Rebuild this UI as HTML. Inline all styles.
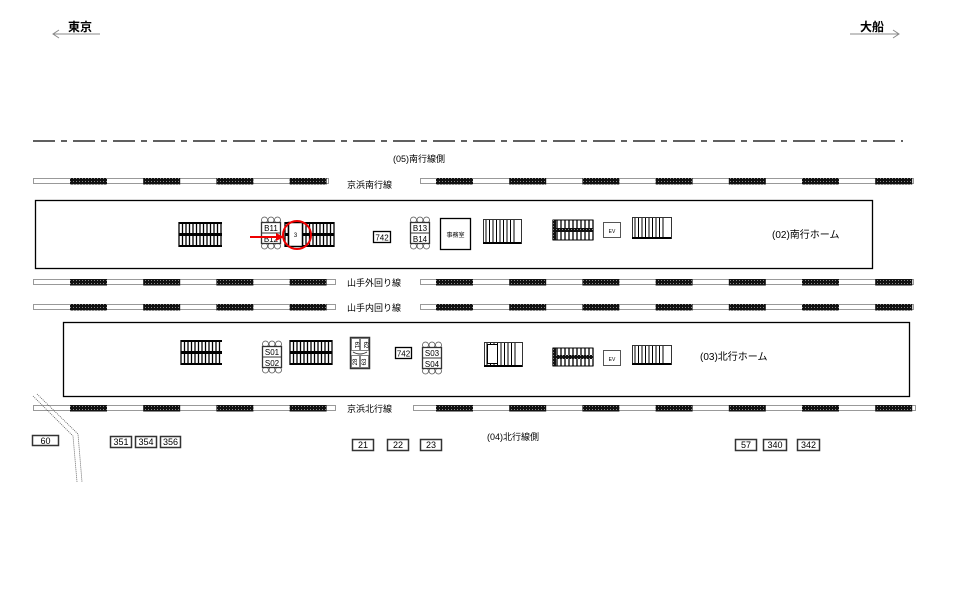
<!DOCTYPE html>
<html><head><meta charset="utf-8">
<style>
html,body{margin:0;padding:0;background:#fff;}
svg{display:block;font-family:"Liberation Sans","Noto Sans CJK JP",sans-serif;}
</style></head>
<body>
<svg id="s" width="960" height="605" viewBox="0 0 960 605" xmlns="http://www.w3.org/2000/svg">
<defs>
<pattern id="hat" width="3" height="3" patternUnits="userSpaceOnUse">
<rect width="3" height="3" fill="#111"/><rect x="1" y="1" width="1" height="1" fill="#888"/>
</pattern>
</defs>
<text x="68" y="31" font-size="12" font-weight="bold">東京</text>
<line x1="53" y1="34" x2="100" y2="34" stroke="#888" stroke-width="1"/>
<polyline points="59,30 53,34 59,38" fill="none" stroke="#888"/>
<text x="860" y="31" font-size="12" font-weight="bold">大船</text>
<line x1="850" y1="34" x2="899" y2="34" stroke="#888" stroke-width="1"/>
<polyline points="893,30 899,34 893,38" fill="none" stroke="#888"/>
<line x1="33" y1="141" x2="903" y2="141" stroke="#000" stroke-width="1.3" stroke-dasharray="22,6,6,6"/>
<text x="393" y="162" font-size="9">(05)南行線側</text>
<text x="487" y="440" font-size="9">(04)北行線側</text>
<text x="347" y="188" font-size="9">京浜南行線</text>
<text x="347" y="286" font-size="9">山手外回り線</text>
<text x="347" y="311" font-size="9">山手内回り線</text>
<text x="347" y="412" font-size="9">京浜北行線</text>
<g id="tracks"></g>
<rect x="35.5" y="200.5" width="837" height="68" fill="none" stroke="#000" stroke-width="1.3"/>
<rect x="63.5" y="322.5" width="846" height="74" fill="none" stroke="#000" stroke-width="1.3"/>
<text x="772" y="238" font-size="10">(02)南行ホーム</text>
<text x="700" y="360" font-size="10">(03)北行ホーム</text>
<g id="items"></g>
<circle cx="297" cy="235" r="14" fill="none" stroke="#e00" stroke-width="2"/>
<line x1="250" y1="237" x2="280" y2="237" stroke="#e00" stroke-width="2"/>
<polygon points="284,237 276,233 276,241" fill="#e00"/>
<rect x="373.5" y="231.5" width="17" height="11" fill="#fff" stroke="#000" stroke-width="1.3"/><text x="382" y="240.5" font-size="8" text-anchor="middle">742</text>
<rect x="395.5" y="347.5" width="16" height="11" fill="#fff" stroke="#000" stroke-width="1.3"/><text x="403.5" y="356.5" font-size="8" text-anchor="middle">742</text>
<rect x="440.5" y="218.5" width="30" height="31" fill="#fff" stroke="#000" stroke-width="1.3"/><text x="455.5" y="237" font-size="6" text-anchor="middle">事務室</text>
<rect x="603.5" y="222.5" width="17" height="15" fill="#fff" stroke="#555"/><text x="612" y="233" font-size="5" text-anchor="middle">EV</text>
<rect x="603.5" y="350.5" width="17" height="15" fill="#fff" stroke="#555"/><text x="612" y="361" font-size="5" text-anchor="middle">EV</text>
<g font-size="9" text-anchor="middle">
<rect x="32.5" y="435.5" width="26" height="10" fill="#fff" stroke="#333" stroke-width="1.5"/><text x="45.5" y="444">60</text>
<rect x="110.5" y="436.5" width="21" height="11" fill="#fff" stroke="#333" stroke-width="1.5"/><text x="121" y="445">351</text>
<rect x="135.5" y="436.5" width="21" height="11" fill="#fff" stroke="#333" stroke-width="1.5"/><text x="146" y="445">354</text>
<rect x="160.5" y="436.5" width="20" height="11" fill="#fff" stroke="#333" stroke-width="1.5"/><text x="170.5" y="445">356</text>
<rect x="352.5" y="439.5" width="21" height="11" fill="#fff" stroke="#333" stroke-width="1.5"/><text x="363" y="448">21</text>
<rect x="387.5" y="439.5" width="21" height="11" fill="#fff" stroke="#333" stroke-width="1.5"/><text x="398" y="448">22</text>
<rect x="420.5" y="439.5" width="21" height="11" fill="#fff" stroke="#333" stroke-width="1.5"/><text x="431" y="448">23</text>
<rect x="735.5" y="439.5" width="21" height="11" fill="#fff" stroke="#333" stroke-width="1.5"/><text x="746" y="448">57</text>
<rect x="763.5" y="439.5" width="23" height="11" fill="#fff" stroke="#333" stroke-width="1.5"/><text x="775" y="448">340</text>
<rect x="797.5" y="439.5" width="22" height="11" fill="#fff" stroke="#333" stroke-width="1.5"/><text x="808.5" y="448">342</text>
</g>
<polyline points="33,396 73,436 77,482" fill="none" stroke="#555" stroke-width="0.8" stroke-dasharray="1,1"/>
<polyline points="37,394 78,434 82,482" fill="none" stroke="#555" stroke-width="0.8" stroke-dasharray="1,1"/>
</svg>
<script>
var NS="http://www.w3.org/2000/svg";
function el(p,t,a,txt){var e=document.createElementNS(NS,t);for(var k in a)e.setAttribute(k,a[k]);if(txt)e.textContent=txt;p.appendChild(e);return e;}
var T=document.getElementById('tracks');
function track(y,gaps){
  gaps.forEach(function(g){el(T,'rect',{x:g[0]+.5,y:y+.5,width:g[1]-g[0],height:5,fill:'#fff',stroke:'#999'});});
  for(var x=70;x<913;x+=73.2){
    var ok=gaps.some(function(g){return x>=g[0]&&x+37<=g[1]+2;});
    if(ok)el(T,'rect',{x:x,y:y,width:37,height:6.5,fill:'url(#hat)'});
  }
}
track(178,[[33,328],[420,913]]);
track(279,[[33,335],[420,913]]);
track(304,[[33,335],[420,913]]);
track(405,[[33,335],[413,915]]);
var I=document.getElementById('items');
function esc(x,y,w,h){
  el(I,'rect',{x:x,y:y,width:w,height:h,fill:'#fff'});
  el(I,'rect',{x:x,y:y,width:w,height:2,fill:'#000'});
  el(I,'rect',{x:x,y:y+h/2-1.5,width:w,height:3,fill:'#000'});
  el(I,'rect',{x:x,y:y+h-2,width:w,height:2,fill:'#000'});
  for(var i=0;i<=w;i+=3.5){el(I,'line',{x1:x+i,y1:y,x2:x+i,y2:y+h,stroke:'#000','stroke-width':1.3});}
}
function stairs(x,y,w,h){
  el(I,'rect',{x:x+.5,y:y+.5,width:w,height:h,fill:'#fff',stroke:'#333'});
  for(var i=3;i<w-6;i+=3.5){el(I,'line',{x1:x+i,y1:y+1,x2:x+i,y2:y+h,stroke:'#000'});}
  el(I,'line',{x1:x,y1:y+h,x2:x+w,y2:y+h,stroke:'#000','stroke-width':2});
}
function escDark(x,y,w,h){
  el(I,'rect',{x:x,y:y,width:w,height:h,fill:'#fff',stroke:'#000'});
  for(var i=0;i<=w;i+=4){el(I,'line',{x1:x+i,y1:y,x2:x+i,y2:y+h,stroke:'#000','stroke-width':1.3});}
  el(I,'rect',{x:x,y:y+h/2-2,width:w,height:4,fill:'url(#hat)'});
  el(I,'rect',{x:x,y:y,width:3,height:h,fill:'url(#hat)'});
}
function ticket(x,y,a,b){
  for(var i=0;i<3;i++){el(I,'circle',{cx:x+3.5+i*6.5,cy:y+3,r:3,fill:'#fff',stroke:'#555','stroke-width':.8});
    el(I,'circle',{cx:x+3.5+i*6.5,cy:y+29,r:3,fill:'#fff',stroke:'#555','stroke-width':.8});}
  el(I,'rect',{x:x+.5,y:y+5.5,width:19,height:21,fill:'#fff',stroke:'#333','stroke-width':1.3});
  el(I,'line',{x1:x,y1:y+16,x2:x+20,y2:y+16,stroke:'#333'});
  el(I,'text',{x:x+10,y:y+14,'font-size':8,'text-anchor':'middle'},a);
  el(I,'text',{x:x+10,y:y+25,'font-size':8,'text-anchor':'middle'},b);
}
esc(179,222,43,25);
ticket(261,217,'B11','B12');
esc(285,222,49,25);
el(I,'rect',{x:288.5,y:222.5,width:14,height:24,fill:'#fff',stroke:'#000','stroke-width':1.5});
el(I,'text',{x:295.5,y:237,'font-size':6,'text-anchor':'middle'},'3');
ticket(410,217,'B13','B14');
stairs(483,219,38,24);
escDark(553,220,40,20);
stairs(632,217,39,21);
esc(181,340,41,25);
ticket(262,341,'S01','S02');
esc(290,340,42,25);
el(I,'rect',{x:350.5,y:337.5,width:19,height:31,fill:'#fff',stroke:'#333','stroke-width':1.5});
el(I,'rect',{x:351.5,y:338.5,width:8,height:12,fill:'#fff',stroke:'#666','stroke-width':.8});
el(I,'rect',{x:360.5,y:338.5,width:8,height:12,fill:'#fff',stroke:'#666','stroke-width':.8});
el(I,'rect',{x:351.5,y:355.5,width:8,height:12,fill:'#fff',stroke:'#666','stroke-width':.8});
el(I,'rect',{x:360.5,y:355.5,width:8,height:12,fill:'#fff',stroke:'#666','stroke-width':.8});
el(I,'path',{d:'M353 352 Q360 356 367 352',fill:'none',stroke:'#333'});
el(I,'text',{x:355,y:345,'font-size':6,'text-anchor':'middle',transform:'rotate(90 355 345)'},'61');
el(I,'text',{x:364,y:345,'font-size':6,'text-anchor':'middle',transform:'rotate(90 364 345)'},'62');
el(I,'text',{x:357,y:362,'font-size':6,'text-anchor':'middle',transform:'rotate(-90 357 362)'},'28');
el(I,'text',{x:366,y:362,'font-size':6,'text-anchor':'middle',transform:'rotate(-90 366 362)'},'63');
ticket(422,342,'S03','S04');
stairs(484,342,38,24);
el(I,'rect',{x:487.5,y:344.5,width:10,height:19,fill:'#fff',stroke:'#000'});
escDark(553,348,40,18);
stairs(632,345,39,19);
</script>
</body></html>
